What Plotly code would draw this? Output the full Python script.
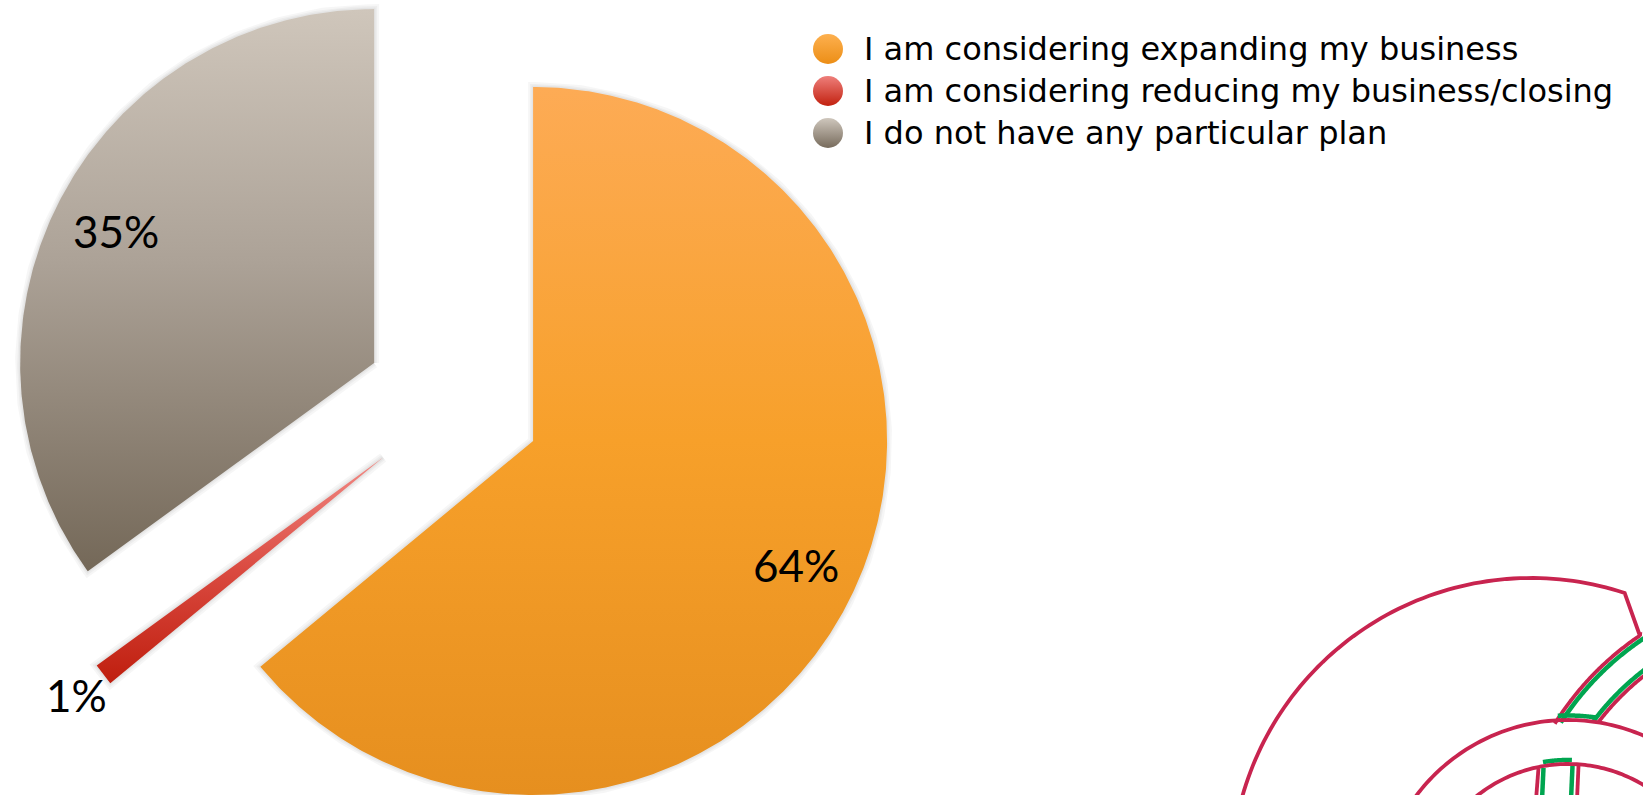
import numpy as np
import plotly.graph_objects as go

W, H = 1643, 795

# ---- data -------------------------------------------------------------
labels = [
    "I am considering expanding my business",
    "I am considering reducing my business/closing",
    "I do not have any particular plan",
]
values = [64, 1, 35]

# ---- styling ----------------------------------------------------------
# vertical gradient stops (top -> bottom) for every slice
slice_gradients = [
    [[0.0, "#FDAB55"], [0.5, "#F7A02A"], [1.0, "#E68F1F"]],
    [[0.0, "#F28A85"], [0.5, "#DA4A40"], [1.0, "#BF1E0E"]],
    [[0.0, "#CFC6BB"], [0.45, "#ACA297"], [1.0, "#746858"]],
]
legend_top = ["#FDB04F", "#EE7F7B", "#CFC7BD"]
legend_bottom = ["#EC8E16", "#C2210F", "#776B5C"]

# exploded-pie geometry, in pixels
pie_center = (453.0, 403.3)
pie_radius = 354.0
pie_pull = 0.25

total = float(sum(values))
bounds = np.cumsum([0] + values) / total * 360.0
mid_deg = (bounds[:-1] + bounds[1:]) / 2.0


def screen_dir(deg):
    """Unit vector for an angle measured clockwise from 12 o'clock (y down)."""
    r = np.radians(deg)
    return np.sin(r), -np.cos(r)


fig = go.Figure()

slice_centers = []
for i in range(len(values)):
    dx, dy = screen_dir(mid_deg[i])
    slice_centers.append((pie_center[0] + pie_pull * pie_radius * dx,
                          pie_center[1] + pie_pull * pie_radius * dy))

slice_outlines = []
for i in range(len(values)):
    sx, sy = slice_centers[i]
    n = max(4, int(abs(bounds[i + 1] - bounds[i]) * 2))
    ang = np.linspace(bounds[i], bounds[i + 1], n)
    xs = [sx] + [sx + pie_radius * screen_dir(a)[0] for a in ang] + [sx]
    ys = [sy] + [sy + pie_radius * screen_dir(a)[1] for a in ang] + [sy]
    slice_outlines.append((xs, ys))

# soft shadow around each slice
for xs, ys in slice_outlines:
    for w in (10, 6, 3):
        fig.add_trace(go.Scatter(
            x=xs, y=ys, mode="lines",
            line=dict(color="rgba(0,0,0,0.035)", width=w),
            hoverinfo="skip", showlegend=False,
        ))

# slices with vertical gradient fill
for i, (xs, ys) in enumerate(slice_outlines):
    fig.add_trace(go.Scatter(
        x=xs, y=ys, mode="lines", fill="toself",
        line=dict(width=0, color="rgba(0,0,0,0)"),
        fillgradient=dict(type="vertical", colorscale=slice_gradients[i],
                          start=min(ys), stop=max(ys)),
        name=labels[i],
        text=f"{values[i] / total * 100:.0f}%",
        hoveron="fills", hoverinfo="name+text",
        showlegend=False,
    ))

# percentage labels placed along each slice's bisector
annotations = []
for i, v in enumerate(values):
    share = v / total
    sx, sy = slice_centers[i]
    dx, dy = screen_dir(mid_deg[i])
    f = 0.82 if share >= 0.05 else 1.096
    annotations.append(dict(
        x=sx + f * pie_radius * dx,
        y=sy + f * pie_radius * dy,
        xref="x", yref="y",
        text=f"{share * 100:.0f}%",
        showarrow=False,
        xanchor="center", yanchor="middle",
        font=dict(family="Gill Sans, Gill Sans MT, Lato", size=44, color="#000000"),
    ))

# legend: gradient circles plus labels
legend_x = 828
legend_y = [49, 91, 133]
fig.add_trace(go.Scatter(
    x=[legend_x] * len(labels),
    y=legend_y,
    mode="markers",
    marker=dict(
        size=30,
        color=legend_top,
        gradient=dict(type="vertical", color=legend_bottom),
        line=dict(width=0),
    ),
    hoverinfo="skip",
    showlegend=False,
))
for lab, ly in zip(labels, legend_y):
    annotations.append(dict(
        x=862, y=ly, xref="x", yref="y",
        text=lab, showarrow=False,
        xanchor="left", yanchor="middle",
        font=dict(family="DejaVu Sans, Verdana", size=32, color="#000000"),
    ))


# ---- emblem in the lower-right corner ----------------------------------
def arc_pts(cx, cy, r, t0, t1, n=80):
    t = np.radians(np.linspace(t0, t1, n))
    return list(zip(cx + r * np.cos(t), cy - r * np.sin(t)))


def to_path(pts):
    return "M" + " L".join(f"{x:.2f},{y:.2f}" for x, y in pts)


CRIMSON = "#C8244F"
GREEN = "#00A550"
shapes = []


def stroke(pts, color, width):
    shapes.append(dict(type="path", path=to_path(pts), xref="x", yref="y",
                       line=dict(color=color, width=width), layer="above"))


# outer ring turning into a woven band
outer = arc_pts(1531, 878, 300, 172, 71.8) + [(1640, 636)] + arc_pts(1805, 880, 295, 124, 148)
stroke(outer, CRIMSON, 3.8)
stroke(arc_pts(1805, 880, 290.5, 123, 147.2), GREEN, 4.5)
stroke(arc_pts(1805, 880, 264.5, 118, 143.0), GREEN, 4.5)
stroke(arc_pts(1805, 880, 260, 118, 142.7), CRIMSON, 3.8)

# middle and inner rings
stroke(arc_pts(1568, 910, 194.5, 93, 81.5), GREEN, 4.5)
stroke(arc_pts(1568, 910, 190, 150, 55), CRIMSON, 3.8)
stroke(arc_pts(1568, 910, 150, 99.6, 88.5), GREEN, 4.5)
stroke(arc_pts(1568, 910, 146, 135, 50), CRIMSON, 3.8)
stroke([(1543.5, 768), (1542, 800)], GREEN, 4.5)
stroke([(1572.5, 766), (1571, 800)], GREEN, 4.5)
stroke([(1538.5, 768), (1536, 800)], CRIMSON, 3.8)
stroke([(1578.5, 766), (1577, 800)], CRIMSON, 3.8)

fig.update_layout(
    width=W, height=H,
    margin=dict(l=0, r=0, t=0, b=0, pad=0),
    paper_bgcolor="#FFFFFF",
    plot_bgcolor="rgba(0,0,0,0)",
    xaxis=dict(range=[0, W], visible=False, fixedrange=True, domain=[0, 1]),
    yaxis=dict(range=[H, 0], visible=False, fixedrange=True, domain=[0, 1]),
    annotations=annotations,
    shapes=shapes,
    showlegend=False,
)

fig.write_html("out.html")
